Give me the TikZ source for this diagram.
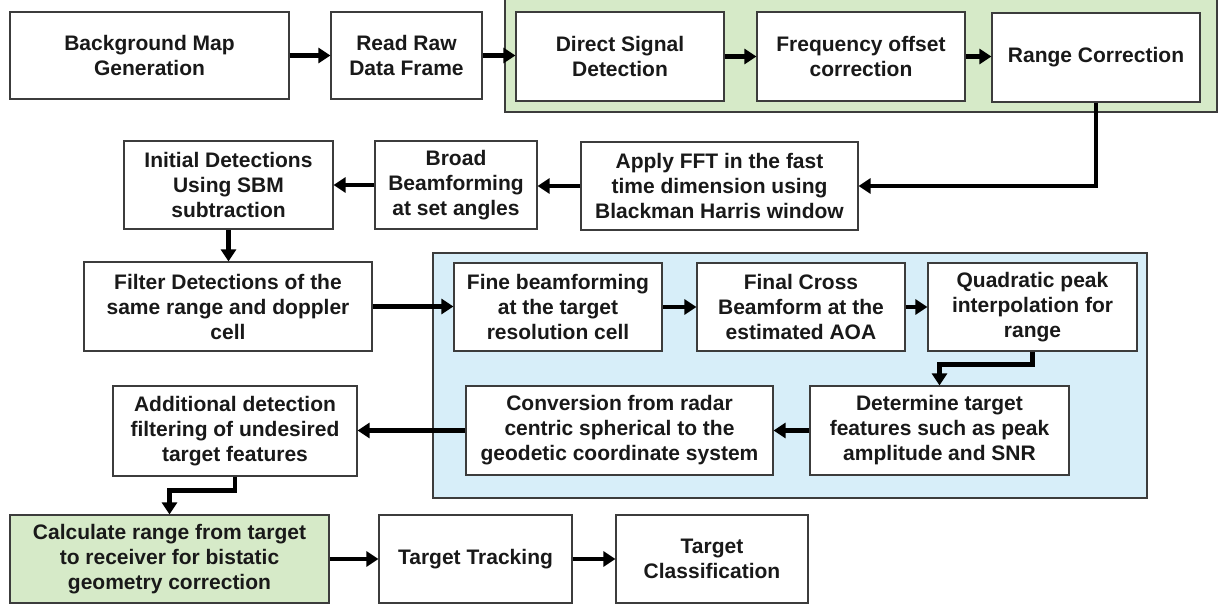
\documentclass[tikz,border=0pt]{standalone}
\usepackage{fontspec}
\setmainfont{Liberation Sans}
\usetikzlibrary{arrows.meta,calc}
\definecolor{grp green}{HTML}{D6EAC8}
\definecolor{grp blue}{HTML}{D7EEF9}
\definecolor{edge}{HTML}{3C3C3C}
\begin{document}
\begin{tikzpicture}[x=1pt,y=-1pt,
  box/.style={draw=edge,line width=1.2pt,fill=white,align=center,inner sep=2pt,
    font=\fontsize{21}{25}\selectfont\bfseries,text=black!90},
  grp/.style={draw=edge,line width=1.2pt},
  arr/.style={line width=4.4pt,-{Triangle[length=12pt,width=15pt]}}]
\useasboundingbox (0,0) rectangle (1219,608);
% groups
\path[grp,fill=grp green] (505,-2) rectangle (1217,112);
\path[grp,fill=grp blue] (433,253) rectangle (1147,498);
% row 1
\node[box,minimum width=279pt,minimum height=87pt] (bmg) at (149.5,55.5) {Background Map\\Generation};
\node[box,minimum width=151pt,minimum height=87pt] (rrdf) at (406.5,55.5) {Read Raw\\Data Frame};
\node[box,minimum width=208pt,minimum height=89pt] (dsd) at (620,56.5) {Direct Signal\\Detection};
\node[box,minimum width=208pt,minimum height=89pt] (foc) at (861,56.5) {Frequency offset\\correction};
\node[box,minimum width=208pt,minimum height=89pt] (rc) at (1096,57.5) {Range Correction};
% row 2
\node[box,minimum width=277pt,minimum height=88pt] (fft) at (719.5,186) {Apply FFT in the fast\\time dimension using\\Blackman Harris window};
\node[box,minimum width=162pt,minimum height=88pt] (broad) at (456,185) {Broad\\Beamforming\\at set angles};
\node[box,minimum width=209pt,minimum height=88pt] (init) at (228.5,185) {Initial Detections\\Using SBM\\subtraction};
% row 3
\node[box,minimum width=288pt,minimum height=89pt] (filter) at (228,306.5) {Filter Detections of the\\same range and doppler\\cell};
\node[box,minimum width=208pt,minimum height=88pt] (fine) at (558,307) {Fine beamforming\\at the target\\resolution cell};
\node[box,minimum width=208pt,minimum height=88pt] (final) at (801,307) {Final Cross\\Beamform at the\\estimated AOA};
\node[box,minimum width=209pt,minimum height=88pt] (quad) at (1032.5,307) {Quadratic peak\\interpolation for\\range};
% row 4
\node[box,minimum width=259pt,minimum height=89pt] (det) at (939.5,430.5) {Determine target\\features such as peak\\amplitude and SNR};
\node[box,minimum width=307pt,minimum height=89pt] (conv) at (619.5,430.5) {Conversion from radar\\centric spherical to the\\geodetic coordinate system};
\node[box,minimum width=244pt,minimum height=90pt] (add) at (235,431) {Additional detection\\filtering of undesired\\target features};
% row 5
\node[box,fill=grp green,minimum width=319pt,minimum height=88pt] (calc) at (169.5,559) {Calculate range from target\\to receiver for bistatic\\geometry correction};
\node[box,minimum width=193pt,minimum height=88pt] (track) at (475.5,559) {Target Tracking};
\node[box,minimum width=192pt,minimum height=88pt] (class) at (712,559) {Target\\Classification};
% connectors
\draw[arr] (bmg.east) -- (bmg.east -| rrdf.west);
\draw[arr] (rrdf.east) -- (rrdf.east -| dsd.west);
\draw[arr] (dsd.east) -- (dsd.east -| foc.west);
\draw[arr] (foc.east) -- (foc.east -| rc.west);
\draw[arr] (rc.south) |- (fft.east);
\draw[arr] (fft.west) -- (fft.west -| broad.east);
\draw[arr] (broad.west) -- (broad.west -| init.east);
\draw[arr] (init.south) -- (init.south |- filter.north);
\draw[arr] (filter.east) -- (filter.east -| fine.west);
\draw[arr] (fine.east) -- (fine.east -| final.west);
\draw[arr] (final.east) -- (final.east -| quad.west);
\draw[arr] (quad.south) -- ++(0,13) -| (det.north);
\draw[arr] (det.west) -- (det.west -| conv.east);
\draw[arr] (conv.west) -- (conv.west -| add.east);
\draw[arr] (add.south) -- ++(0,14) -| (calc.north);
\draw[arr] (calc.east) -- (calc.east -| track.west);
\draw[arr] (track.east) -- (track.east -| class.west);
\end{tikzpicture}
\end{document}
